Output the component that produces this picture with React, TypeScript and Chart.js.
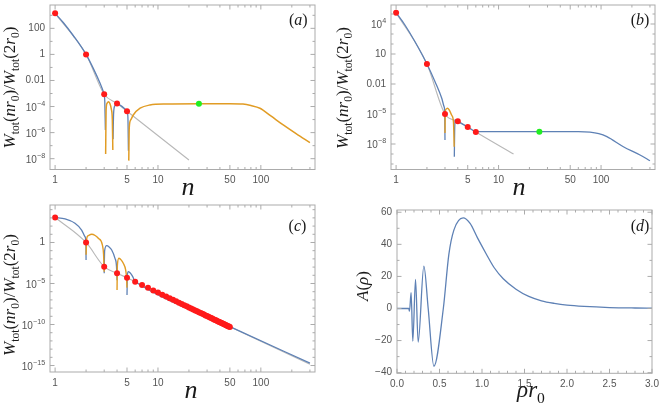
import React, { useEffect, useRef } from "react";
import { Chart, registerables } from "chart.js";

Chart.register(...registerables);

// ---------------- shared n-axis ticks (panels a, b, c) ----------------
const nMajorTicks = [1, 5, 10, 50, 100];
const nMajorLabels = ["1", "5", "10", "50", "100"];
const nMinorTicks = [2, 3, 4, 6, 7, 8, 9, 20, 30, 40, 60, 70, 80, 90, 200, 300];

// ---------------- panel (a): values stored as log10 ----------------
const aYMajor = [1e2, 1, 1e-2, 1e-4, 1e-6, 1e-8];
const aYLabels = ["100", "1", "0.01", "10⁻⁴", "10⁻⁶", "10⁻⁸"];
const aYMinor = [1e3, 10, 0.1, 1e-3, 1e-5, 1e-7];

const aRedN = [1, 2, 3, 4, 5];
const aRedLog = [3.15, 0, -3.06, -3.77, -4.36];
const aGreenN = [25];
const aGreenLog = [-3.78];
const aGrayN = [1, 2, 3, 4, 5, 20];
const aGrayLog = [3.15, 0, -3.06, -3.77, -4.36, -8.1];
const aBlueN = [1, 1.2, 1.5, 2, 2.35, 2.73, 2.94, 3, 3.04, 3.08, 3.08, 3.66, 3.7, 3.8, 4, 4.4, 4.8, 5, 5.1, 5.16];
const aBlueLog = [3.15, 2.45, 1.45, 0, -1.07, -2.2, -2.85, -3.06, -3.6, -5.8, null, -6.5, -4.6, -3.95, -3.77, -3.95, -4.2, -4.36, -4.8, -7.4];
const aOrangeN = [3.1, 3.13, 3.2, 3.29, 3.4, 3.52, 3.6, 3.64, 3.64, 5.2, 5.26, 5.43, 5.75, 6.7, 8.35, 12, 25, 50, 67, 80, 98, 125, 165, 220, 300];
const aOrangeLog = [-7.64, -4.3, -3.75, -3.63, -3.75, -4.2, -5.0, -7.33, null, -8.15, -5.6, -5.03, -4.65, -4.13, -3.88, -3.8, -3.78, -3.78, -3.81, -3.92, -4.13, -4.72, -5.41, -6.08, -6.77];

// ---------------- panel (b) ----------------
const bYMajor = [1e4, 10, 1e-2, 1e-5, 1e-8];
const bYLabels = ["10⁴", "10", "0.01", "10⁻⁵", "10⁻⁸"];
const bYMinor = [1e5, 1e3, 1e2, 1, 0.1, 1e-3, 1e-4, 1e-6, 1e-7, 1e-9, 1e-10];

const bRedN = [1, 2, 3, 4, 5, 6];
const bRedLog = [5.13, 0, -5.0, -5.73, -6.3, -6.8];
const bGreenN = [25];
const bGreenLog = [-6.77];
const bGrayN = [1, 2, 3, 4, 5, 6, 14];
const bGrayLog = [5.13, 0, -5.0, -5.73, -6.3, -6.8, -9.0];
const bBlueN = [1, 1.22, 1.53, 2, 2.4, 2.79, 2.94, 2.98, 3.0, 3.0, 3.7, 3.73, 3.8, 4, 5, 6, 7, 25, 60, 78, 95, 114, 165, 240, 300];
const bBlueLog = [5.13, 3.9, 2.23, 0, -1.77, -3.43, -4.27, -4.75, -7.6, null, -9.27, -6.5, -5.6, -5.73, -6.3, -6.75, -6.77, -6.77, -6.77, -6.82, -6.97, -7.27, -8.27, -9.1, -9.67];
const bOrangeN = [3.0, 3.02, 3.08, 3.17, 3.3, 3.5, 3.63, 3.69];
const bOrangeLog = [-6.9, -4.8, -4.5, -4.43, -4.6, -5.15, -5.8, -8.27];

// ---------------- panel (c) ----------------
const cYMajor = [1, 1e-5, 1e-10, 1e-15];
const cYLabels = ["1", "10⁻⁵", "10⁻¹⁰", "10⁻¹⁵"];
const cYMinor = [1e4, 1e3, 1e2, 10, 0.1, 1e-2, 1e-3, 1e-4, 1e-6, 1e-7, 1e-8, 1e-9, 1e-11, 1e-12, 1e-13, 1e-14];

const cRedN = [1, 2, 3, 4, 5, 6, 7, 8, 9, 10, 11, 12, 13, 14, 15, 16, 17, 18, 19, 20, 21, 22, 23, 24, 25,
  26, 27, 28, 29, 30, 31, 32, 33, 34, 35, 36, 37, 38, 39, 40, 41, 42, 43, 44, 45, 46, 47, 48, 49, 50];
const cRedLog = [3.05, 0, -2.95, -3.76, -4.29, -4.78, -5.18, -5.53, -5.84, -6.11, -6.36, -6.59, -6.79, -6.99, -7.17,
  -7.34, -7.49, -7.64, -7.78, -7.92, -8.04, -8.17, -8.28, -8.39, -8.5, -8.6, -8.7, -8.79, -8.89, -8.97,
  -9.06, -9.14, -9.22, -9.3, -9.38, -9.45, -9.52, -9.59, -9.66, -9.72, -9.79, -9.85, -9.91, -9.97, -10.03,
  -10.09, -10.14, -10.2, -10.25, -10.3];
const cGrayN = [1, 2, 3, 4, 5, 6, 300];
const cGrayLog = [3.05, 0, -2.95, -3.76, -4.29, -4.78, -14.85];
const cBlueN = [1, 1.25, 1.56, 1.81, 1.95, 1.99, 2, 2, 3, 3.03, 3.17, 3.35, 3.55, 3.82, 3.95, 4, 4, 5, 5.04, 5.15, 5.35, 5.55, 5.75, 5.92, 6, 50, 300];
const cBlueLog = [3.05, 2.87, 2.34, 1.52, 0.71, 0.1, -2.13, null, -3.76, -1.0, -0.39, -0.55, -0.91, -1.93, -2.9, -4.6, null, -6.4, -4.0, -3.56, -3.7, -3.96, -4.3, -4.72, -4.78, -10.26, -14.7];
const cOrangeN = [2, 2.03, 2.1, 2.27, 2.45, 2.63, 2.88, 2.96, 3, 3, 4, 4.03, 4.17, 4.4, 4.6, 4.85, 4.95, 5];
const cOrangeLog = [-1.5, 0.5, 0.85, 1.0, 0.85, 0.51, -0.3, -1.5, -3.56, null, -5.8, -2.8, -1.93, -2.15, -2.54, -3.35, -4.3, -5.5];

// ---------------- panel (d) ----------------
const dXMajor = [0, 0.5, 1, 1.5, 2, 2.5, 3];
const dXLabels = ["0.0", "0.5", "1.0", "1.5", "2.0", "2.5", "3.0"];
const dXMinor = [0.1, 0.2, 0.3, 0.4, 0.6, 0.7, 0.8, 0.9, 1.1, 1.2, 1.3, 1.4, 1.6, 1.7, 1.8, 1.9, 2.1, 2.2, 2.3, 2.4, 2.6, 2.7, 2.8, 2.9];
const dYMajor = [-40, -20, 0, 20, 40, 60];
const dYLabels = ["−40", "−20", "0", "20", "40", "60"];
const dYMinor = [-30, -10, 10, 30, 50];
const dRho = [0, 0.1, 0.138, 0.147, 0.166, 0.186, 0.218, 0.249, 0.316, 0.367, 0.434, 0.545, 0.61, 0.67, 0.778, 0.86, 0.947, 1.05, 1.144, 1.25, 1.4, 1.55, 1.7, 1.85, 2.0, 2.2, 2.5, 2.8, 3.0];
const dA = [0, 0, 0, -1.7, 9.8, -20.4, 18.1, -21, 26.4, 0, -36, 0, 33.7, 49, 56.5, 53, 44, 34, 25.4, 18.5, 12, 7.5, 4.8, 3.2, 2.1, 1.3, 0.6, 0.3, 0.2];

// ---------------- styles ----------------
const BLUE = "#5E81B5";
const ORANGE = "#E19C24";
const GRAY = "#b8b8b8";
const RED = "#ff1a1a";
const GREEN = "#22ee22";
const FRAME = "#ababab";
const TICKTXT = "#555555";
const SANS = "'Liberation Sans', Arial, sans-serif";
const SERIF = "'Liberation Serif', 'DejaVu Serif', serif";
const TICK_SIZE = 10;

type Seg = { t: string; it?: boolean; sub?: boolean };
type RichItem = { segs: Seg[]; x: number; y: number; size: number; rotate?: boolean };

const SUP: Record<string, string> = {
  "⁻": "−", "⁰": "0", "¹": "1", "²": "2", "³": "3", "⁴": "4", "⁵": "5", "⁶": "6", "⁷": "7", "⁸": "8", "⁹": "9",
};
const isSup = (s: string) => [...s].some((c) => c in SUP);

const logPts = (ns: number[], logs: (number | null)[]) =>
  ns.map((n, i) => ({ x: n, y: logs[i] === null ? null : Math.pow(10, logs[i] as number) }));
const linPts = (xs: number[], ys: number[]) => xs.map((x, i) => ({ x, y: ys[i] }));

function lineDs(data: any[], color: string, order: number, width = 1.3) {
  return {
    data,
    showLine: true,
    borderColor: color,
    backgroundColor: color,
    borderWidth: width,
    pointRadius: 0,
    pointHoverRadius: 0,
    pointHitRadius: 0,
    cubicInterpolationMode: "monotone",
    spanGaps: false,
    order,
  };
}
function dotDs(data: any[], color: string, order: number, r = 3) {
  return {
    data,
    showLine: false,
    backgroundColor: color,
    borderColor: color,
    borderWidth: 0,
    pointRadius: r,
    pointHoverRadius: r,
    order,
  };
}

function axis(
  type: string,
  min: number,
  max: number,
  major: number[],
  labels: string[],
  minor: number[],
  isX: boolean,
  fit: number
) {
  const map = new Map<number, string>(major.map((v, i) => [v, labels[i]]));
  const all = [...major, ...minor].sort((a, b) => a - b);
  return {
    type,
    position: isX ? "bottom" : "left",
    min,
    max,
    bounds: "data",
    grid: { display: false, drawTicks: false },
    border: { display: false },
    ticks: {
      autoSkip: false,
      maxRotation: 0,
      minRotation: 0,
      padding: 5,
      color: TICKTXT,
      font: { family: SANS, size: TICK_SIZE },
      // labels with exponents are typeset by the frame plugin (base + raised exponent)
      callback: (v: number) => {
        const l = map.get(v) ?? "";
        return isSup(l) ? "" : l;
      },
    },
    afterBuildTicks: (s: any) => {
      s.ticks = all.map((v) => ({ value: v, major: map.has(v), full: map.get(v) ?? "" }));
    },
    afterFit: (s: any) => {
      if (isX) s.height = fit;
      else s.width = fit;
      s.paddingLeft = 0;
      s.paddingRight = 0;
      s.paddingTop = 0;
      s.paddingBottom = 0;
    },
  };
}

function drawRich(ctx: CanvasRenderingContext2D, item: RichItem) {
  ctx.save();
  ctx.translate(item.x, item.y);
  if (item.rotate) ctx.rotate(-Math.PI / 2);
  const parts = item.segs.map((s) => {
    const fs = s.sub ? item.size * 0.68 : item.size;
    const font = `${s.it ? "italic " : ""}${fs}px ${SERIF}`;
    ctx.font = font;
    return { ...s, font, w: ctx.measureText(s.t).width, dy: s.sub ? item.size * 0.24 : 0 };
  });
  const total = parts.reduce((a, p) => a + p.w, 0);
  let cx = -total / 2;
  ctx.fillStyle = "#1a1a1a";
  ctx.textBaseline = "alphabetic";
  ctx.textAlign = "left";
  for (const p of parts) {
    ctx.font = p.font;
    ctx.fillText(p.t, cx, p.dy);
    cx += p.w;
  }
  ctx.restore();
}

// "10⁻⁴" drawn as base "10" with a smaller raised exponent, right-aligned at x
function drawPowerLabel(ctx: CanvasRenderingContext2D, label: string, xRight: number, yMid: number) {
  const chars = [...label];
  const k = chars.findIndex((c) => c in SUP);
  const base = chars.slice(0, k).join("");
  const exp = chars.slice(k).map((c) => SUP[c] ?? c).join("");
  ctx.save();
  ctx.fillStyle = TICKTXT;
  ctx.textBaseline = "middle";
  ctx.textAlign = "left";
  const bf = `${TICK_SIZE}px ${SANS}`;
  const ef = `${TICK_SIZE * 0.72}px ${SANS}`;
  ctx.font = bf;
  const bw = ctx.measureText(base).width;
  ctx.font = ef;
  const ew = ctx.measureText(exp).width;
  const x0 = xRight - bw - ew;
  ctx.font = bf;
  ctx.fillText(base, x0, yMid + 1.5);
  ctx.font = ef;
  ctx.fillText(exp, x0 + bw + 0.3, yMid - 2.5);
  ctx.restore();
}

function framePlugin(items: RichItem[]) {
  return {
    id: "frameAndText",
    afterDatasetsDraw(chart: any) {
      const { ctx, chartArea: a, scales } = chart;
      ctx.save();
      ctx.strokeStyle = FRAME;
      ctx.lineWidth = 1;
      ctx.strokeRect(a.left, a.top, a.right - a.left, a.bottom - a.top);
      ctx.beginPath();
      for (const t of scales.x.ticks) {
        const px = scales.x.getPixelForValue(t.value);
        const len = t.major ? 4.5 : 2.5;
        ctx.moveTo(px, a.bottom);
        ctx.lineTo(px, a.bottom - len);
        ctx.moveTo(px, a.top);
        ctx.lineTo(px, a.top + len);
      }
      for (const t of scales.y.ticks) {
        const py = scales.y.getPixelForValue(t.value);
        const len = t.major ? 4.5 : 2.5;
        ctx.moveTo(a.left, py);
        ctx.lineTo(a.left + len, py);
        ctx.moveTo(a.right, py);
        ctx.lineTo(a.right - len, py);
      }
      ctx.stroke();
      ctx.restore();
    },
    afterDraw(chart: any) {
      const { ctx, chartArea: a, scales } = chart;
      for (const t of scales.y.ticks) {
        if (t.full && isSup(t.full)) drawPowerLabel(ctx, t.full, a.left - 5, scales.y.getPixelForValue(t.value));
      }
      for (const it of items) drawRich(ctx, it);
    },
  };
}

type PanelSpec = {
  w: number;
  h: number;
  area: { left: number; top: number; right: number; bottom: number };
  xAxis: any;
  yAxis: any;
  datasets: any[];
  texts: RichItem[];
};

function buildConfig(p: PanelSpec): any {
  return {
    type: "scatter",
    data: { datasets: p.datasets },
    options: {
      responsive: false,
      animation: false,
      events: [],
      layout: { padding: { left: 0, top: p.area.top, right: p.w - p.area.right, bottom: 0 } },
      plugins: { legend: { display: false }, tooltip: { enabled: false } },
      scales: { x: p.xAxis, y: p.yAxis },
    },
    plugins: [framePlugin(p.texts)],
  };
}

const wTitle: Seg[] = [
  { t: "W", it: true }, { t: "tot", sub: true }, { t: "(" }, { t: "n", it: true }, { t: "r", it: true },
  { t: "0", sub: true }, { t: ")/" }, { t: "W", it: true }, { t: "tot", sub: true }, { t: "(2" },
  { t: "r", it: true }, { t: "0", sub: true }, { t: ")" },
];
const tag = (c: string): Seg[] => [{ t: "(" }, { t: c, it: true }, { t: ")" }];

const NMIN = 0.892;
const NMAX = 336;

const panels: { left: number; top: number; spec: PanelSpec }[] = [
  {
    left: 0,
    top: 0,
    spec: {
      w: 330, h: 200,
      area: { left: 50, top: 5, right: 315, bottom: 169.5 },
      xAxis: axis("logarithmic", NMIN, NMAX, nMajorTicks, nMajorLabels, nMinorTicks, true, 200 - 169.5),
      yAxis: axis("logarithmic", Math.pow(10, -8.83), Math.pow(10, 3.79), aYMajor, aYLabels, aYMinor, false, 50),
      datasets: [
        dotDs(logPts(aGreenN, aGreenLog), GREEN, 0),
        dotDs(logPts(aRedN, aRedLog), RED, 1),
        lineDs(logPts(aOrangeN, aOrangeLog), ORANGE, 2, 1.5),
        lineDs(logPts(aBlueN, aBlueLog), BLUE, 3),
        lineDs(logPts(aGrayN, aGrayLog), GRAY, 4, 1.1),
      ],
      texts: [
        { segs: wTitle, x: 15, y: 87.5, size: 17, rotate: true },
        { segs: [{ t: "n", it: true }], x: 188, y: 195, size: 26 },
        { segs: tag("a"), x: 298.3, y: 25, size: 16 },
      ],
    },
  },
  {
    left: 330,
    top: 0,
    spec: {
      w: 330, h: 200,
      area: { left: 61, top: 5, right: 325, bottom: 169.5 },
      xAxis: axis("logarithmic", NMIN, NMAX, nMajorTicks, nMajorLabels, nMinorTicks, true, 200 - 169.5),
      yAxis: axis("logarithmic", Math.pow(10, -10.55), Math.pow(10, 5.9), bYMajor, bYLabels, bYMinor, false, 61),
      datasets: [
        dotDs(logPts(bGreenN, bGreenLog), GREEN, 0),
        dotDs(logPts(bRedN, bRedLog), RED, 1),
        lineDs(logPts(bOrangeN, bOrangeLog), ORANGE, 2, 1.4),
        lineDs(logPts(bBlueN, bBlueLog), BLUE, 3),
        lineDs(logPts(bGrayN, bGrayLog), GRAY, 4, 1.1),
      ],
      texts: [
        { segs: wTitle, x: 18, y: 88, size: 17, rotate: true },
        { segs: [{ t: "n", it: true }], x: 189, y: 195, size: 26 },
        { segs: tag("b"), x: 310, y: 25, size: 16 },
      ],
    },
  },
  {
    left: 0,
    top: 200,
    spec: {
      w: 330, h: 205,
      area: { left: 50, top: 5, right: 315, bottom: 172 },
      xAxis: axis("logarithmic", NMIN, NMAX, nMajorTicks, nMajorLabels, nMinorTicks, true, 205 - 172),
      yAxis: axis("logarithmic", Math.pow(10, -15.79), Math.pow(10, 4.57), cYMajor, cYLabels, cYMinor, false, 50),
      datasets: [
        dotDs(logPts(cRedN, cRedLog), RED, 1),
        lineDs(logPts(cOrangeN, cOrangeLog), ORANGE, 2, 1.4),
        lineDs(logPts(cBlueN, cBlueLog), BLUE, 3),
        lineDs(logPts(cGrayN, cGrayLog), GRAY, 4, 1.1),
      ],
      texts: [
        { segs: wTitle, x: 15, y: 95, size: 17, rotate: true },
        { segs: [{ t: "n", it: true }], x: 191, y: 198, size: 26 },
        { segs: tag("c"), x: 297.5, y: 30.5, size: 16 },
      ],
    },
  },
  {
    left: 330,
    top: 200,
    spec: {
      w: 330, h: 205,
      area: { left: 67, top: 10, right: 322, bottom: 173.3 },
      xAxis: axis("linear", 0, 3, dXMajor, dXLabels, dXMinor, true, 205 - 173.3),
      yAxis: axis("linear", -40.4, 61.4, dYMajor, dYLabels, dYMinor, false, 67),
      datasets: [lineDs(linPts(dRho, dA), BLUE, 3)],
      texts: [
        { segs: [{ t: "A", it: true }, { t: "(" }, { t: "ρ", it: true }, { t: ")" }], x: 38, y: 86, size: 17, rotate: true },
        { segs: [{ t: "ρ", it: true }, { t: "r", it: true }, { t: "0", sub: true }], x: 201, y: 197, size: 23 },
        { segs: tag("d"), x: 310, y: 30.5, size: 16 },
      ],
    },
  },
];

function Panel({ left, top, spec }: { left: number; top: number; spec: PanelSpec }) {
  const ref = useRef<HTMLCanvasElement>(null);
  useEffect(() => {
    const chart = new Chart(ref.current as HTMLCanvasElement, buildConfig(spec));
    return () => chart.destroy();
  }, []);
  return (
    <div style={{ position: "absolute", left, top, width: spec.w, height: spec.h }}>
      <canvas ref={ref} width={spec.w} height={spec.h} style={{ width: spec.w, height: spec.h, display: "block" }} />
    </div>
  );
}

export default function App() {
  return (
    <div style={{ position: "absolute", left: 0, top: 0, width: 660, height: 405, background: "#fff", overflow: "hidden" }}>
      {panels.map((p, i) => (
        <Panel key={i} left={p.left} top={p.top} spec={p.spec} />
      ))}
    </div>
  );
}
